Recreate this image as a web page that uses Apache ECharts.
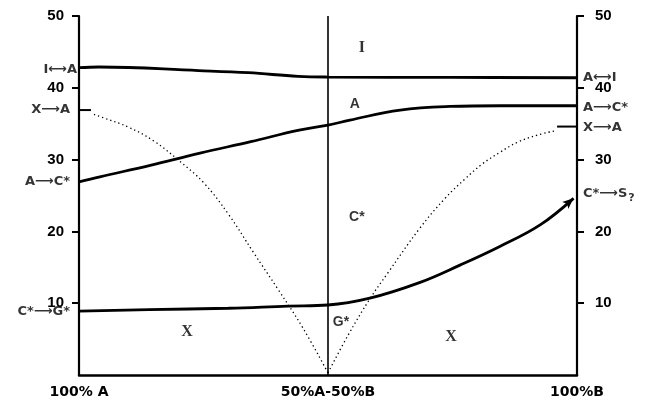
<!DOCTYPE html>
<html><head><meta charset="utf-8">
<script src="https://cdn.jsdelivr.net/npm/echarts@6/dist/echarts.min.js"></script>
<style>html,body{margin:0;padding:0;background:#fff}#c{width:646px;height:402px}</style>
</head><body><div id="c"></div>
<script>
// tick labels
const xTickValues = [0, 50, 100];
const xTickLabels = ['100% A', '50%A-50%B', '100%B'];
const yTickValues = [10, 20, 30, 40, 50];

// I <-> A boundary
const iaX = [0, 4, 24, 34, 44, 50, 75, 100];
const iaY = [42.8, 42.9, 42.4, 42.1, 41.6, 41.5, 41.45, 41.4];
// A -> C* boundary
const acX = [0, 4.2, 14.3, 24.3, 34.5, 44.2, 50, 54.4, 64.5, 74.5, 84.5, 100];
const acY = [26.9, 27.6, 29.2, 30.9, 32.5, 34.1, 34.8, 35.5, 36.9, 37.4, 37.5, 37.5];
// C* -> G* boundary
const cgX = [0, 14, 30, 42, 50, 58.4, 68.5, 76.5, 84.5, 92.6, 99.3];
const cgY = [8.9, 9.1, 9.3, 9.6, 9.75, 10.7, 12.9, 15.3, 17.9, 20.9, 24.6];
// X -> A boundary (dotted), left and right branches
const xaLeftX = [3, 5, 10, 15, 20, 25, 30, 35, 40, 45, 50];
const xaLeftY = [36.3, 35.8, 34.5, 32.6, 29.9, 26.8, 22.4, 17.1, 11.9, 6.5, 0.3];
const xaRightX = [50, 54, 58.4, 62, 68.5, 73.5, 77.5, 81, 84.5, 88, 92, 95.5];
const xaRightY = [0.3, 5.5, 10.6, 14.2, 20.5, 24.6, 27.3, 29.4, 31.0, 32.4, 33.4, 34.0];
// short solid stubs of the X -> A boundary at the axes
const xaStubLeftX = [0, 2.4];
const xaStubLeftY = [36.9, 36.9];
const xaStubRightX = [96, 100];
const xaStubRightY = [34.6, 34.6];
// middle composition line
const midX = [50, 50];
const midY = [0, 50];

// field labels
const fieldNames = ['I', 'A', 'C*', 'G*', 'X', 'X'];
const fieldX = [56.8, 55.4, 55.8, 52.6, 21.7, 74.7];
const fieldY = [45.5, 37.7, 22.0, 7.4, 6.0, 5.3];
const fieldSerif = [true, false, false, false, true, true];

// transition labels at the edges
const leftNames = ['I⟷A', 'X⟶A', 'A⟶C*', 'C*⟶G*'];
const leftY = [42.6, 36.9, 26.9, 8.8];
const rightNames = ['A⟷I', 'A⟶C*', 'X⟶A', 'C*⟶S{sub|?}'];
const rightY = [41.4, 37.3, 34.5, 25.2];

const zip = (xs, ys) => xs.map((x, i) => [x, ys[i]]);

const solid = (data, w, extra) => Object.assign({
  type: 'line', data, symbol: 'none', silent: true, animation: false,
  lineStyle: { color: '#000', width: w }
}, extra || {});

const cgData = zip(cgX, cgY).map((p, i, a) => i === a.length - 1
  ? { value: p, symbol: 'arrow', symbolSize: [7, 11], symbolRotate: -49, itemStyle: { color: '#000' } }
  : { value: p });

const chart = echarts.init(document.getElementById('c'), null, { renderer: 'canvas' });
const tickFont = { color: '#000', fontFamily: 'Liberation Sans', fontWeight: 'bold', fontSize: 15 };
const yAxisBase = (pos, margin) => ({
  type: 'value', min: 0, max: 50, interval: 10, position: pos,
  axisLine: { show: true, onZero: false, lineStyle: { color: '#000', width: 2.2 } },
  axisTick: { show: true, customValues: yTickValues, length: 7, lineStyle: { color: '#000', width: 2 } },
  axisLabel: Object.assign({ customValues: yTickValues, margin: margin }, tickFont),
  splitLine: { show: false }
});

const edgeFont = { color: '#000', fontFamily: 'DejaVu Sans', fontWeight: 'bold', fontSize: 13 };

chart.setOption({
  backgroundColor: '#fff',
  animation: false,
  grid: { left: 79, right: 69, top: 16, bottom: 27, outerBoundsMode: 'none' },
  xAxis: {
    type: 'value', min: 0, max: 100,
    axisLine: { show: true, lineStyle: { color: '#000', width: 2.5 } },
    axisTick: { show: false },
    splitLine: { show: false },
    axisLabel: {
      customValues: xTickValues,
      formatter: v => xTickLabels[xTickValues.indexOf(v)],
      color: '#000', fontFamily: 'DejaVu Sans', fontWeight: 'bold', fontSize: 14, margin: 10
    }
  },
  yAxis: [yAxisBase('left', 15), yAxisBase('right', 18)],
  series: [
    solid(zip(midX, midY), 1.6),
    solid(zip(iaX, iaY), 2.8, { smooth: 0.4 }),
    solid(zip(acX, acY), 2.8, { smooth: 0.4 }),
    solid(cgData, 2.8, { smooth: 0.4, symbol: 'circle', symbolSize: 0, showSymbol: true, showAllSymbol: true }),
    solid(zip(xaLeftX, xaLeftY), 1.3, { smooth: 0.4, lineStyle: { color: '#000', width: 1.3, type: [1.3, 3] } }),
    solid(zip(xaRightX, xaRightY), 1.3, { smooth: 0.4, lineStyle: { color: '#000', width: 1.3, type: [1.3, 3] } }),
    solid(zip(xaStubLeftX, xaStubLeftY), 2),
    solid(zip(xaStubRightX, xaStubRightY), 2),
    {
      type: 'scatter', silent: true, animation: false, symbolSize: 0,
      data: fieldNames.map((n, i) => ({
        value: [fieldX[i], fieldY[i]],
        label: {
          show: true, position: 'inside', formatter: n, color: '#000', fontWeight: 'bold',
          fontFamily: fieldSerif[i] ? 'Liberation Serif' : 'Liberation Sans',
          fontSize: fieldSerif[i] ? 16 : 14
        }
      }))
    },
    {
      type: 'scatter', silent: true, animation: false, symbolSize: 0,
      data: leftNames.map((n, i) => ({
        value: [0, leftY[i]],
        label: Object.assign({
          show: true, position: 'left', distance: i === 0 ? 2 : 9, formatter: n
        }, edgeFont)
      }))
    },
    {
      type: 'scatter', silent: true, animation: false, symbolSize: 0,
      data: rightNames.map((n, i) => ({
        value: [100, rightY[i]],
        label: Object.assign({
          show: true, position: 'right', distance: 6, formatter: n,
          rich: { sub: { fontFamily: 'DejaVu Sans', fontWeight: 'bold', fontSize: 11, padding: [8, 0, 0, 1], color: '#000' } }
        }, edgeFont)
      }))
    }
  ]
});
</script>
</body></html>
